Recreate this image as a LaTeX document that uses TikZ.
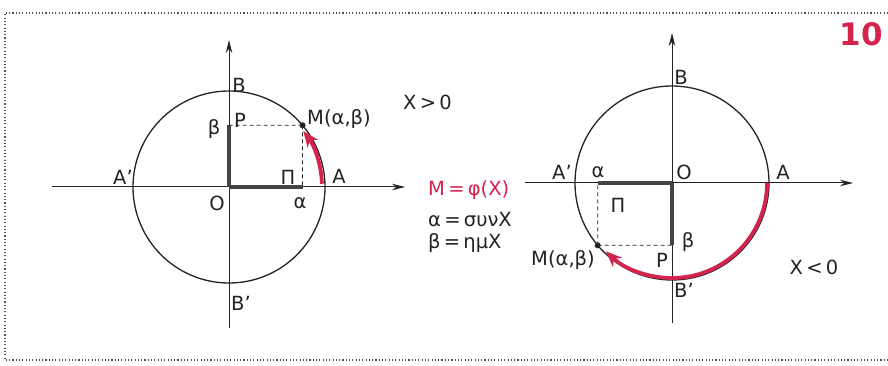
\documentclass[tikz,border=0pt]{standalone}
\usepackage{fontspec}
\setmainfont{DejaVu Sans}
\usetikzlibrary{arrows.meta}
\definecolor{redc}{RGB}{212,36,78}
\definecolor{ink}{RGB}{35,35,35}
\tikzset{
  x=1pt,y=1pt,
  axis/.style={draw=ink,line width=1pt,-{Stealth[length=13pt,width=6.5pt]}},
  circ/.style={draw=ink,line width=1.3pt},
  thickseg/.style={draw=ink!85,line width=4.4pt},
  dashseg/.style={draw=ink,line width=0.7pt,dash pattern=on 4pt off 3pt},
  redarc/.style={draw=redc,line width=3.8pt,-{Stealth[length=16pt,width=13pt]}},
  lbl/.style={font=\fontsize{19.5}{22}\selectfont,text=ink,inner sep=0pt},
  mdot/.style={circle,fill=ink,draw=ink,inner sep=0pt,minimum size=5.5pt},
}
\begin{document}
\begin{tikzpicture}
\useasboundingbox (0,0) rectangle (888,-366);
% frame
\draw[ink!80,line width=1.1pt,dash pattern=on 1.1pt off 2.2pt] (888,-13) -- (5,-13) -- (5,-360) -- (888,-360);
\node[font=\bfseries\fontsize{31}{34}\selectfont,text=redc,inner sep=0pt] (num) at (861,-34) {10};

% ---------- left diagram ----------
\begin{scope}[shift={(229,-187)}]
  \coordinate (lO) at (0,0);
  \coordinate (lxs) at (-177,0);
  \coordinate (lxe) at (176,0);
  \coordinate (lys) at (0,-141);
  \coordinate (lye) at (0,147);
  \draw[circ] (lO) circle[radius=96];
  \draw[axis] (lxs) -- (lxe);
  \draw[axis] (lys) -- (lye);
  \coordinate (lM) at (40:96);
  \coordinate (lP) at (0,61.7);
  \coordinate (lPi) at (73.5,0);
  \draw[thickseg] (lO) -- (lPi);
  \draw[thickseg] (lO) -- (lP);
  \draw[dashseg] (lM) -- (lP);
  \draw[dashseg] (lM) -- (lPi);
  \coordinate (lAs) at (2:93);
  \draw[redarc] (lAs) arc[start angle=2,end angle=37,radius=93];
  \node[mdot] (lMd) at (lM) {};
  \node[lbl] (lBl) at (10,102) {B};
  \node[lbl] (lPl) at (11,67) {P};
  \node[lbl] (lbl) at (-15,58) {β};
  \node[lbl] (lMl) at (110,68) {M(α,β)};
  \node[lbl] (lPil) at (59,10) {Π};
  \node[lbl] (lAl) at (110,11) {A};
  \node[lbl] (lApl) at (-106,10) {A’};
  \node[lbl] (lOl) at (-12,-16) {O};
  \node[lbl] (lal) at (71,-16) {α};
  \node[lbl] (lBpl) at (12,-116) {B’};
\end{scope}

% ---------- middle text ----------
\node[lbl,anchor=west] (xpos) at (403,-102) {X\,>\,0};
\node[lbl,anchor=west,text=redc] (mphi) at (428,-190) {M\,=\,φ(X)};
\node[lbl,anchor=west] (acos) at (428,-220) {α\,=\,συνX};
\node[lbl,anchor=west] (bsin) at (428,-243) {β\,=\,ημX};

% ---------- right diagram ----------
\begin{scope}[shift={(672,-183)}]
  \coordinate (rO) at (0,0);
  \coordinate (rxs) at (-147,0);
  \coordinate (rxe) at (181,0);
  \coordinate (rys) at (0,-140);
  \coordinate (rye) at (0,150);
  \draw[circ] (rO) circle[radius=97];
  \draw[axis] (rxs) -- (rxe);
  \draw[axis] (rys) -- (rye);
  \coordinate (rM) at (220:97);
  \coordinate (rP) at (0,-62.3);
  \coordinate (rPi) at (-74.3,0);
  \draw[thickseg] (rO) -- (rPi);
  \draw[thickseg] (rO) -- (rP);
  \draw[dashseg] (rM) -- (rP);
  \draw[dashseg] (rM) -- (rPi);
  \coordinate (rAs) at (0:95);
  \draw[redarc] (rAs) arc[start angle=0,end angle=-134,radius=95];
  \node[mdot] (rMd) at (rM) {};
  \node[lbl] (ral) at (-74,11) {α};
  \node[lbl] (rPil) at (-54,-22) {Π};
  \node[lbl] (rbl) at (16,-59) {β};
  \node[lbl] (rPl) at (-10,-77) {P};
  \node[lbl] (rMl) at (-109,-77) {M(α,β)};
  \node[lbl] (rOl) at (12,11) {O};
  \node[lbl] (rAl) at (111,11) {A};
  \node[lbl] (rApl) at (-110,11) {A’};
  \node[lbl] (rBl) at (9,106) {B};
  \node[lbl] (rBpl) at (12,-107) {B’};
  \node[lbl] (xneg) at (142,-84) {X\,<\,0};
\end{scope}
\end{tikzpicture}
\end{document}
